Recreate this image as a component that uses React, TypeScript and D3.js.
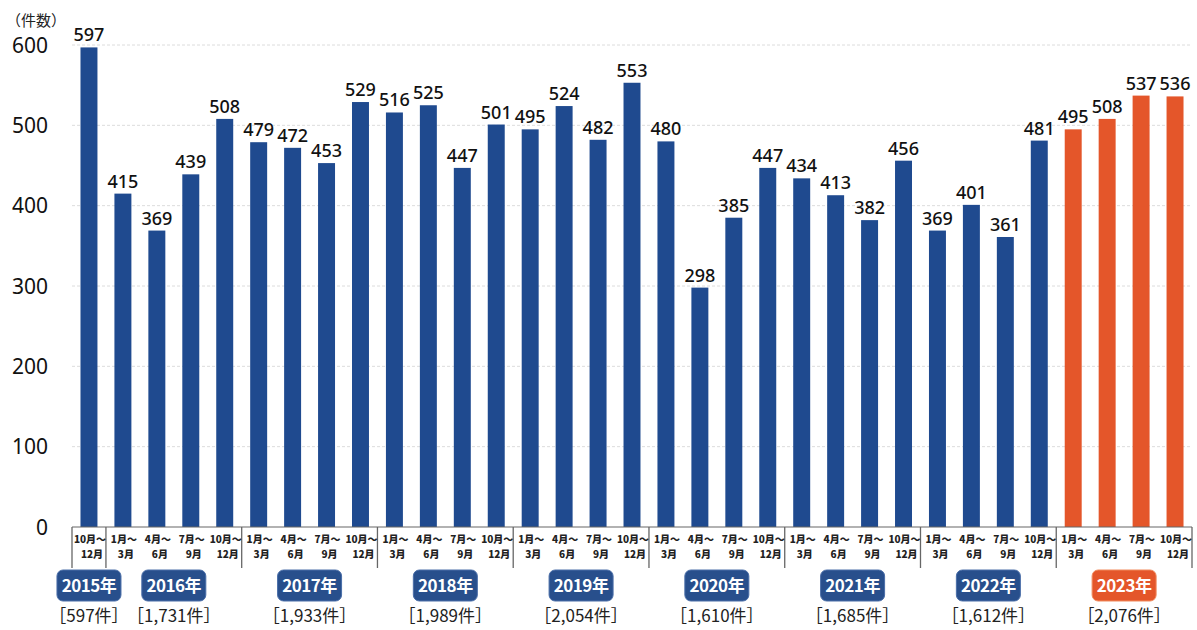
import React from 'react';
import * as d3 from 'd3';

const quarters: [string, string][] = [
  ['10月～', '12月'],
  ['1月～', '3月'], ['4月～', '6月'], ['7月～', '9月'], ['10月～', '12月'],
  ['1月～', '3月'], ['4月～', '6月'], ['7月～', '9月'], ['10月～', '12月'],
  ['1月～', '3月'], ['4月～', '6月'], ['7月～', '9月'], ['10月～', '12月'],
  ['1月～', '3月'], ['4月～', '6月'], ['7月～', '9月'], ['10月～', '12月'],
  ['1月～', '3月'], ['4月～', '6月'], ['7月～', '9月'], ['10月～', '12月'],
  ['1月～', '3月'], ['4月～', '6月'], ['7月～', '9月'], ['10月～', '12月'],
  ['1月～', '3月'], ['4月～', '6月'], ['7月～', '9月'], ['10月～', '12月'],
  ['1月～', '3月'], ['4月～', '6月'], ['7月～', '9月'], ['10月～', '12月'],
];

const values: number[] = [
  597,
  415, 369, 439, 508,
  479, 472, 453, 529,
  516, 525, 447, 501,
  495, 524, 482, 553,
  480, 298, 385, 447,
  434, 413, 382, 456,
  369, 401, 361, 481,
  495, 508, 537, 536,
];

const years: string[] = ['2015年', '2016年', '2017年', '2018年', '2019年', '2020年', '2021年', '2022年', '2023年'];
const yearStart: number[] = [0, 1, 5, 9, 13, 17, 21, 25, 29];
const yearEnd: number[] = [1, 5, 9, 13, 17, 21, 25, 29, 33];
const yearTotals: string[] = ['［597件］', '［1,731件］', '［1,933件］', '［1,989件］', '［2,054件］', '［1,610件］', '［1,685件］', '［1,612件］', '［2,076件］'];
const highlightYear = '2023年';

const yTicks: number[] = [0, 100, 200, 300, 400, 500, 600];

const W = 1197;
const H = 630;
const left = 72;
const right = 1192;
const top = 45;
const bottom = 527;

const BLUE = '#1f4a8f';
const ORANGE = '#e4562a';
const BADGE_BLUE = '#284f8c';
const NUM_FONT = '"Noto Sans", "Open Sans", sans-serif';
const JP_FONT = '"Noto Sans CJK JP", "Noto Sans", sans-serif';

export default function App() {
  const idx = values.map((_, i) => i);
  const x = d3.scaleBand<number>().domain(idx).range([left, right]).paddingInner(0.5).paddingOuter(0.25);
  const y = d3.scaleLinear().domain([0, 600]).range([bottom, top]);
  const step = x.step();
  const boundary = (k: number) => left + k * step;
  const yearOf = (i: number) => years[yearStart.findIndex((s, j) => i >= s && i < yearEnd[j])];
  const separators = Array.from(new Set([...yearStart, ...yearEnd]));

  return (
    <svg width={W} height={H} style={{ position: 'absolute', left: 0, top: 0, background: '#fff' }}>
      {/* gridlines */}
      {yTicks.filter(t => t > 0).map(t => (
        <line key={'g' + t} x1={left} x2={right} y1={y(t)} y2={y(t)} stroke="#dcdcdc" strokeWidth={1} strokeDasharray="3,2" />
      ))}
      {/* y labels */}
      {yTicks.map(t => (
        <text key={'y' + t} x={48} y={y(t)} dy="0.36em" textAnchor="end" fontFamily={NUM_FONT} fontSize={21} fill="#111">{t}</text>
      ))}
      <text x={6} y={26} fontFamily={JP_FONT} fontSize={15} fill="#222">（件数）</text>
      {/* bars */}
      {values.map((v, i) => (
        <rect key={'b' + i} x={x(i)} y={y(v)} width={x.bandwidth()} height={y(0) - y(v)} fill={yearOf(i) === highlightYear ? ORANGE : BLUE} />
      ))}
      {/* value labels */}
      {values.map((v, i) => (
        <text key={'v' + i} x={(x(i) as number) + x.bandwidth() / 2} y={y(v) - 6} textAnchor="middle" fontFamily={NUM_FONT} fontSize={18} fontWeight={500} fill="#111">{v}</text>
      ))}
      {/* axis line */}
      <line x1={left} x2={right} y1={bottom} y2={bottom} stroke="#666" strokeWidth={1.2} />
      {separators.map(k => (
        <line key={'s' + k} x1={boundary(k)} x2={boundary(k)} y1={bottom} y2={568} stroke="#666" strokeWidth={1.3} />
      ))}
      {/* quarter labels */}
      {quarters.map((q, i) => {
        const cx = (x(i) as number) + x.bandwidth() / 2 + 1;
        return (
          <g key={'q' + i} fontFamily={JP_FONT} fontSize={10} fontWeight={900} fill="#222" textAnchor="middle">
            <text x={cx} y={543}>{q[0]}</text>
            <text x={cx + 2} y={558}>{q[1]}</text>
          </g>
        );
      })}
      {/* year badges */}
      {years.map((yr, j) => {
        const cx = (boundary(yearStart[j]) + boundary(yearEnd[j])) / 2;
        const fill = yr === highlightYear ? ORANGE : BADGE_BLUE;
        return (
          <g key={'yr' + j}>
            <rect x={cx - 32} y={570} width={64} height={31} rx={6} fill={fill} stroke={yr === highlightYear ? '#f08a5d' : '#4a6ea8'} strokeWidth={1} />
            <text x={cx} y={592} textAnchor="middle" fontFamily={JP_FONT} fontSize={17} fontWeight="bold" fill="#fff" letterSpacing={-0.5}>{yr}</text>
            <text x={cx} y={622} textAnchor="middle" fontFamily={JP_FONT} fontSize={17} fill="#222">{yearTotals[j]}</text>
          </g>
        );
      })}
    </svg>
  );
}
